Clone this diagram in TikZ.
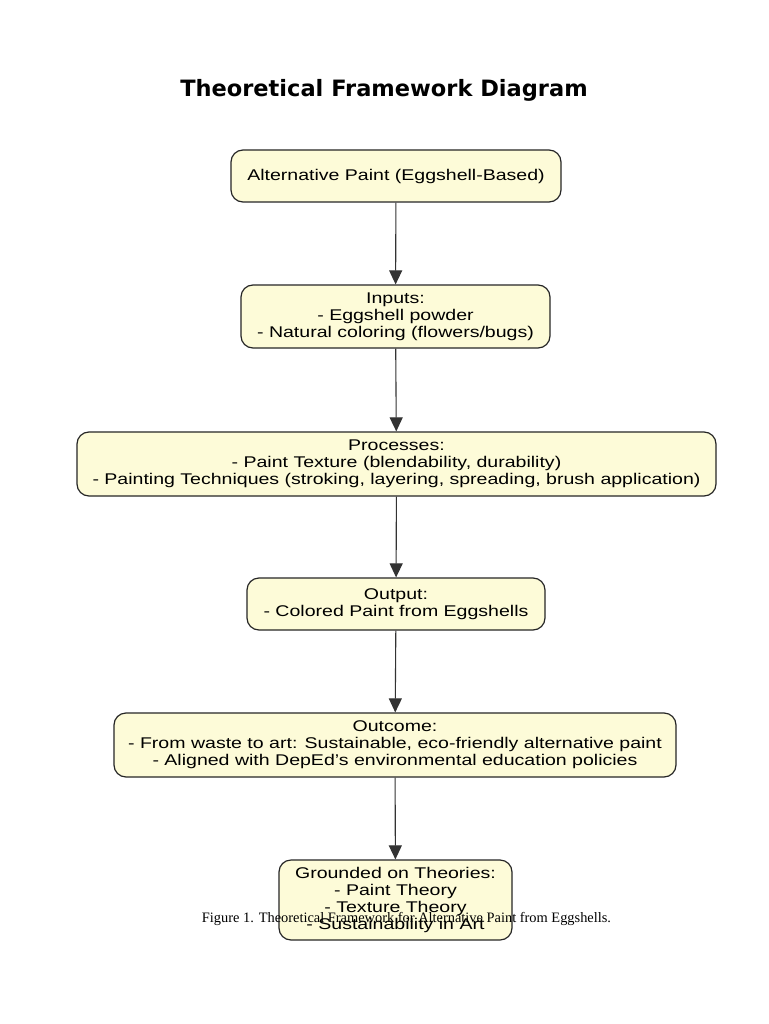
\documentclass[tikz,border=0pt]{standalone}
\usepackage{fontspec}
\setmainfont{Liberation Sans}[FakeStretch=1.26]
\newfontfamily\titlefont{DejaVu Sans}
\newfontfamily\capfont{Liberation Serif}
\usepackage{xcolor}
\usetikzlibrary{positioning,arrows.meta}
\definecolor{boxfill}{RGB}{253,251,216}

\begin{document}
\begin{tikzpicture}[x=1pt,y=-1pt,
  box/.style={draw=black!85, line width=1.2pt, fill=boxfill, rounded corners=12pt,
    align=center, inner sep=2pt, font=\fontsize{15.5}{17}\selectfont},
  flow/.style={-{Triangle[length=14pt,width=13pt]}, line width=1.1pt, draw=black!80}]
\useasboundingbox[fill=white] (0,0) rectangle (768,1024);
\node[font=\titlefont\bfseries\fontsize{22.5}{26}\selectfont] (title) at (384,90) {Theoretical Framework Diagram};
\node[box, minimum width=330pt, minimum height=52pt] (paint) at (396,176) {Alternative Paint (Eggshell-Based)};
\node[box, minimum width=309pt, minimum height=63pt] (inputs) at (395.5,316.5) {Inputs:\\- Eggshell powder\\- Natural coloring (flowers/bugs)};
\node[box, minimum width=639pt, minimum height=64pt] (processes) at (396.5,464) {Processes:\\- Paint Texture (blendability, durability)\\- Painting Techniques (stroking, layering, spreading, brush application)};
\node[box, minimum width=298pt, minimum height=52pt] (output) at (396,604) {Output:\\- Colored Paint from Eggshells};
\node[box, minimum width=562pt, minimum height=64pt] (outcome) at (395,745) {Outcome:\\- From waste to art: Sustainable, eco-friendly alternative paint\\- Aligned with DepEd’s environmental education policies};
\node[box, minimum width=233pt, minimum height=80pt] (theories) at (395.5,900) {Grounded on Theories:\\- Paint Theory\\- Texture Theory\\- Sustainability in Art};
\draw[flow] (paint) -- (inputs);
\draw[flow] (inputs) -- (processes);
\draw[flow] (processes) -- (output);
\draw[flow] (output) -- (outcome);
\draw[flow] (outcome) -- (theories);
% caption sits over the last box
\node[font=\capfont\fontsize{14.4}{16}\selectfont] (caption) at (406.5,919) {Figure 1. Theoretical Framework for Alternative Paint from Eggshells.};
\end{tikzpicture}
\end{document}
